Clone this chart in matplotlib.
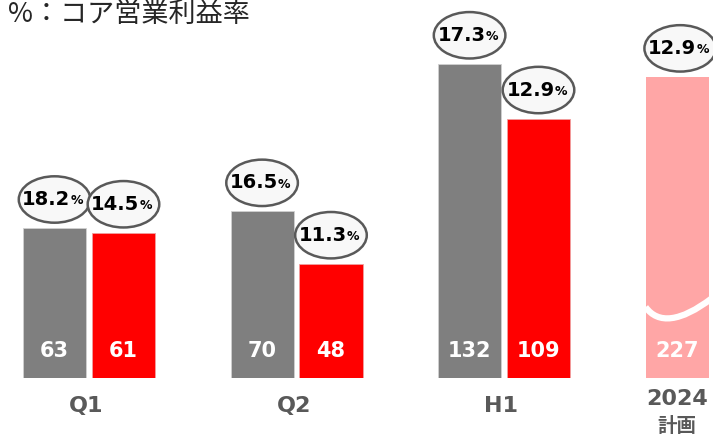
import matplotlib
matplotlib.use('Agg')
import matplotlib.pyplot as plt
from matplotlib.patches import Ellipse, PathPatch
from matplotlib.path import Path
import numpy as np

#-- datos --
categorias = ['Q1', 'Q2', 'H1']
valores_2023 = [63, 70, 132]
valores_2024 = [61, 48, 109]
margen_2023 = ['18.2', '16.5', '17.3']
margen_2024 = ['14.5', '11.3', '12.9']

plan_etiqueta = ['2024', '計画']
plan_valor = 227
plan_margen = '12.9'
plan_altura = 126.5   # barra cortada (eje partido)

titulo = '%：コア営業利益率'

GRIS = '#7f7f7f'
ROJO = '#ff0000'
ROSA = '#ffa6a6'
TXT = '#595959'

plt.rcParams['font.family'] = ['DejaVu Sans', 'Noto Sans CJK JP']

fig = plt.figure(figsize=(7.13, 4.37), dpi=100)
ax = fig.add_axes([0, 59 / 437, 1, 378 / 437])
ax.set_xlim(-0.429, 3.007)
ax.set_ylim(0, 378 / 2.38)
ax.axis('off')

x = np.arange(len(categorias))
w = 0.304
d = 0.166
x_plan = 2.834


def elipse(xc, top, txt):
    yc = top + 12.0
    e = Ellipse((xc, yc), 0.345, 19.5, facecolor='#f8f8f8', edgecolor='#595959',
                lw=1.8, clip_on=False, zorder=3)
    ax.add_patch(e)
    ax.annotate(txt, (xc, yc), xytext=(11.5, 0), textcoords='offset points',
                ha='right', va='center', fontsize=14, fontweight='bold',
                color='black', zorder=4)
    ax.annotate('%', (xc, yc), xytext=(11.5, -1), textcoords='offset points',
                ha='left', va='center', fontsize=9, fontweight='bold',
                color='black', zorder=4)


def valor(xc, v):
    ax.annotate(str(v), (xc, 0), xytext=(0, 19.5), textcoords='offset points',
                ha='center', va='center', fontsize=15, fontweight='bold',
                color='white', zorder=4)


b1 = ax.bar(x - d, valores_2023, w, color=GRIS, edgecolor='#d0d0d0', lw=0.6)
b2 = ax.bar(x + d, valores_2024, w, color=ROJO, edgecolor='#f0a0a0', lw=0.6)
for i in range(len(categorias)):
    valor(x[i] - d, valores_2023[i])
    valor(x[i] + d, valores_2024[i])
    elipse(x[i] - d, valores_2023[i], margen_2023[i])
    elipse(x[i] + d, valores_2024[i], margen_2024[i])
    ax.annotate(categorias[i], (x[i], 0), xytext=(-2, -20), textcoords='offset points',
                ha='center', va='center', fontsize=16, fontweight='bold',
                color=TXT, annotation_clip=False)

bp = ax.bar(x_plan, plan_altura, w, color=ROSA)
valor(x_plan, plan_valor)
elipse(x_plan + 0.015, plan_altura, plan_margen)

# linea ondulada de corte
xl = x_plan - w / 2
verts = [(xl, 29.8), (xl + 0.2 * w, 22.5), (xl + 0.55 * w, 23.5), (xl + 1.05 * w, 33.5)]
onda = PathPatch(Path(verts, [Path.MOVETO, Path.CURVE4, Path.CURVE4, Path.CURVE4]),
                 facecolor='none', edgecolor='white', lw=4.5, zorder=3)
ax.add_patch(onda)
onda.set_clip_path(bp[0])

ax.annotate(plan_etiqueta[0], (x_plan, 0), xytext=(0, -15), textcoords='offset points',
            ha='center', va='center', fontsize=16, fontweight='bold',
            color=TXT, annotation_clip=False)
ax.annotate(plan_etiqueta[1], (x_plan, 0), xytext=(0, -35), textcoords='offset points',
            ha='center', va='center', fontsize=14, fontweight='bold',
            color=TXT, annotation_clip=False)

fig.text(8 / 713, 1 - 14 / 437, titulo, ha='left', va='center', fontsize=19.5,
         color='#262626', family=['Noto Sans CJK JP', 'DejaVu Sans'])

fig.savefig('out.png', dpi=100)
